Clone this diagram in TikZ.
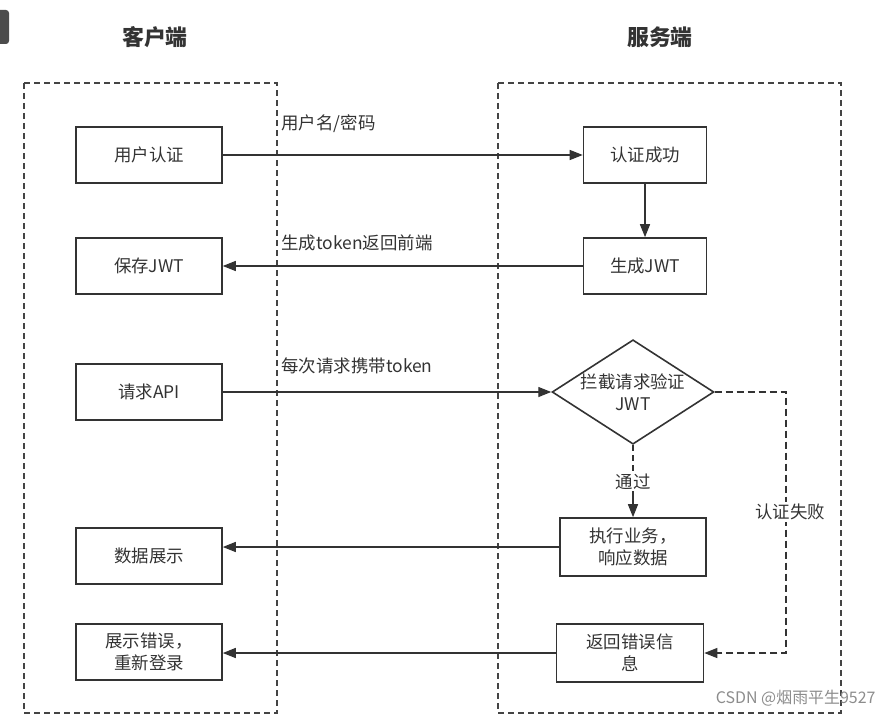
\documentclass[tikz,border=0pt]{standalone}
\usepackage{fontspec}
\setmainfont{Noto Sans CJK SC}
\usetikzlibrary{arrows.meta}
\usetikzlibrary{shapes.geometric}
\definecolor{ink}{HTML}{333333}
\definecolor{frame}{HTML}{444444}
\tikzset{box/.style = {draw=ink, line width=1.6bp, minimum width=146bp,
                       minimum height=56bp, align=center, inner sep=2bp,
                       font=\fontsize{17.5}{22}\selectfont, text=ink}}
\tikzset{lbl/.style = {font=\fontsize{17.5}{20}\selectfont, text=ink}}
\tikzset{conn/.style = {draw=ink, line width=1.3bp,
                        -{Triangle[length=13bp,width=10bp]}}}
\tikzset{lane/.style = {draw=frame, line width=1.3bp, dash pattern=on 6bp off 4bp}}
\begin{document}
\begin{tikzpicture}[x=1bp,y=-1bp]
  \useasboundingbox (0,0) rectangle (893,719);
  \fill[black!70, rounded corners=3bp] (-6,10) rectangle (9,44);
  % titles
  \node[font=\fontsize{22}{24}\selectfont\bfseries, text=ink] (tc) at (155,37) {客户端};
  \node[font=\fontsize{22}{24}\selectfont\bfseries, text=ink] (ts) at (660,37) {服务端};
  % lanes
  \draw[lane] (24,83) rectangle (277,713);
  \draw[lane] (498,83) rectangle (841,713);
  % client side
  \node[box] (auth) at (149,155) {用户认证};
  \node[box] (save) at (149,266) {保存JWT};
  \node[box] (req) at (149,392) {请求API};
  \node[box] (show) at (149,556) {数据展示};
  \node[box] (err) at (149,652) {展示错误，\\ 重新登录};
  % server side
  \node[box, minimum width=123bp] (ok) at (645,155) {认证成功};
  \node[box, minimum width=123bp] (gen) at (645,266) {生成JWT};
  \node[diamond, draw=ink, line width=1.6bp, aspect=1.55, inner sep=0pt,
        minimum width=154bp, minimum height=100bp, align=center,
        font=\fontsize{17.5}{22}\selectfont, text=ink] (chk) at (633,392) {拦截请求验证\\JWT};
  \node[box, minimum width=146bp, minimum height=58bp] (exe) at (633,547) {执行业务，\\ 响应数据};
  \node[box, minimum width=147bp, minimum height=58bp] (ret) at (630,653) {返回错误信\\息};
  % connectors
  \draw[conn] (auth) -- (auth -| ok.west);
  \node[lbl, anchor=west] (l1) at (278,124) {用户名/密码};
  \draw[conn] (ok) -- (gen);
  \draw[conn] (gen) -- (gen -| save.east);
  \node[lbl, anchor=west] (l2) at (278,243) {生成token返回前端};
  \draw[conn] (req) -- (chk.west);
  \node[lbl, anchor=west] (l3) at (278,366) {每次请求携带token};
  \coordinate (mid) at (633,482);
  \draw[draw=ink, line width=1.3bp, dash pattern=on 6bp off 4bp] (chk.south) -- (mid);
  \draw[conn] (mid) -- (exe.north);
  \node[lbl, fill=white, inner sep=1bp] (l4) at (mid) {通过};
  \draw[conn] (exe.west) -- (exe.west -| show.east);
  \draw[conn] (ret.west) -- (ret.west -| err.east);
  \coordinate (turn) at (786,392);
  \draw[conn, dash pattern=on 7bp off 4bp] (chk.east) -- (turn) |- (ret.east);
  \node[lbl, fill=white, inner sep=2bp] (l5) at (790,512) {认证失败};
  % watermark
  \node[font=\fontsize{16}{18}\selectfont, text=black!45, anchor=east] (wm) at (879,698) {CSDN @烟雨平生9527};
\end{tikzpicture}
\end{document}
